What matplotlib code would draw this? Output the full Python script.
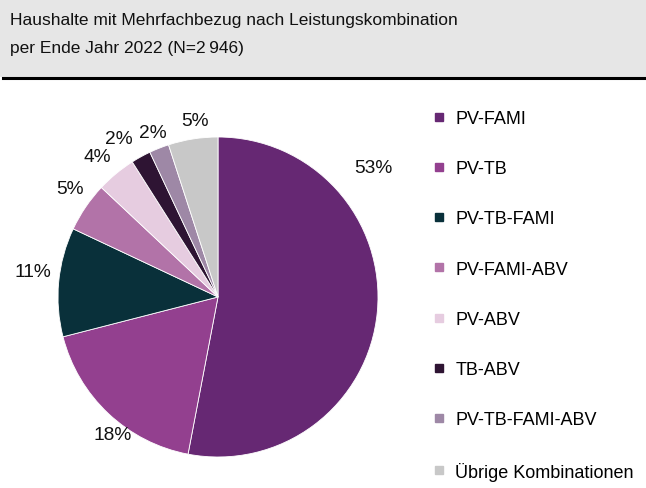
import matplotlib.pyplot as plt
from matplotlib.patches import Rectangle
from matplotlib.lines import Line2D

plt.rcParams["font.family"] = ["Liberation Sans", "DejaVu Sans"]

# ---------------------------------------------------------------------
# Data
# ---------------------------------------------------------------------
categories = [
    "PV-FAMI",
    "PV-TB",
    "PV-TB-FAMI",
    "PV-FAMI-ABV",
    "PV-ABV",
    "TB-ABV",
    "PV-TB-FAMI-ABV",
    "Übrige Kombinationen",
]
shares = [53, 18, 11, 5, 4, 2, 2, 5]
colors = ["#662873", "#93408f", "#09303a", "#b273a8",
          "#e6cce0", "#2e1433", "#9e88a6", "#c8c8c8"]

# label positions in units of the pie radius (Excel "best fit" placement)
label_pos = [(0.97, 0.81), (-0.66, -0.86), (-1.16, 0.16), (-0.925, 0.675),
             (-0.756, 0.875), (-0.62, 0.99), (-0.41, 1.03), (-0.144, 1.106)]

W, H = 646, 489
fig = plt.figure(figsize=(W / 100, H / 100), dpi=100)

# ---------------------------------------------------------------------
# Title box
# ---------------------------------------------------------------------
fig.patches.append(Rectangle((0, (H - 78) / H), 1, 78 / H,
                             transform=fig.transFigure,
                             facecolor="#e6e6e6", edgecolor="none"))
fig.lines.append(Line2D([3 / W, 1], [(H - 79) / H] * 2,
                        transform=fig.transFigure, color="black", lw=2.2))
fig.text(10 / W, (H - 21) / H,
         "Haushalte mit Mehrfachbezug nach Leistungskombination",
         fontsize=12.5, va="center", ha="left", color="#111111")
fig.text(10 / W, (H - 49) / H, "per Ende Jahr 2022 (N=2\u2009946)",
         fontsize=12.5, va="center", ha="left", color="#111111")

# ---------------------------------------------------------------------
# Pie
# ---------------------------------------------------------------------
ax = fig.add_axes([58 / W, (H - 458) / H, 320 / W, 320 / H])
wedges, _ = ax.pie(shares, colors=colors, startangle=90, counterclock=False,
                   radius=1, wedgeprops=dict(linewidth=0.6, edgecolor="white"))
ax.set_xlim(-1, 1)
ax.set_ylim(-1, 1)

for val, (x, y) in zip(shares, label_pos):
    ax.text(x, y, f"{val}%", ha="center", va="center", fontsize=13.8,
            color="#111111", clip_on=False)

# ---------------------------------------------------------------------
# Legend
# ---------------------------------------------------------------------
handles = [Line2D([], [], marker="s", linestyle="none", markersize=6,
                  markerfacecolor=c, markeredgecolor=c) for c in colors]
fig.legend(handles, categories, loc="upper left",
           bbox_to_anchor=(421 / W, (H - 102) / H), frameon=False,
           fontsize=13.0, labelspacing=1.84, handletextpad=0.4,
           handlelength=1.0, borderpad=0)

fig.savefig("out.png", dpi=100)
